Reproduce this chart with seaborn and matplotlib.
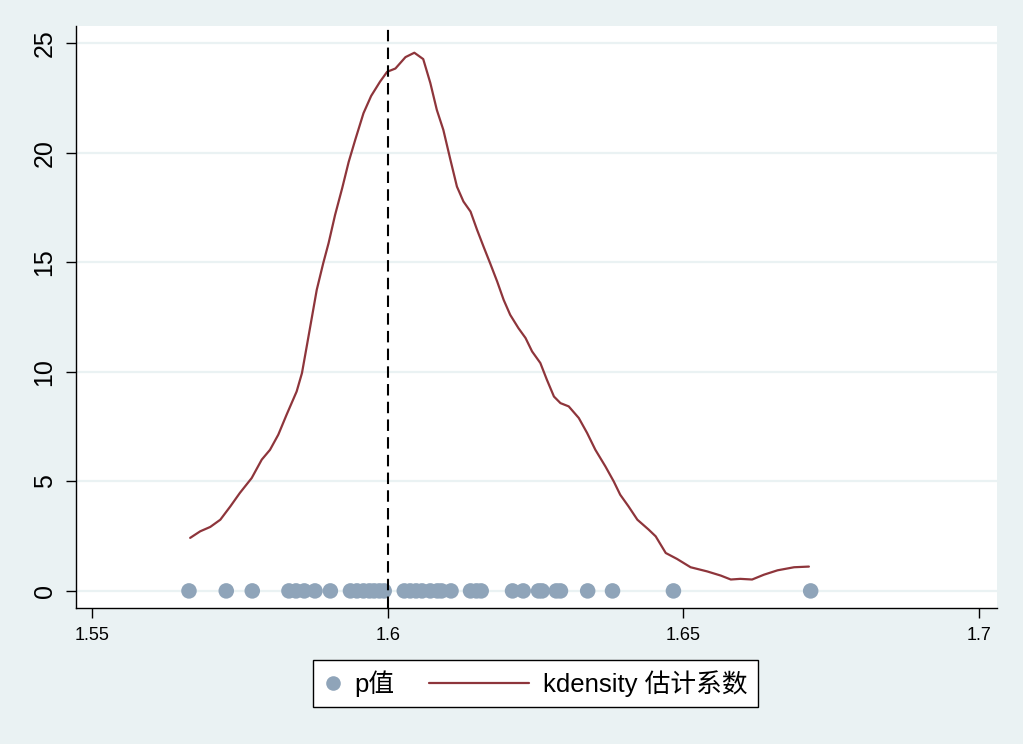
import numpy as np
import pandas as pd
import matplotlib
matplotlib.use("Agg")
import matplotlib.pyplot as plt
import seaborn as sns
from matplotlib.lines import Line2D
from matplotlib.legend_handler import HandlerLine2D

# ------------------ DATA ------------------
# estimated coefficients, drawn as dots on the zero line
coef_values = [
    1.5664, 1.5727, 1.5771, 1.5833, 1.5845, 1.5859, 1.5877, 1.5903,
    1.5937, 1.5948, 1.5959, 1.5969, 1.5977, 1.5986, 1.5994,
    1.6028, 1.6038, 1.6048, 1.6058, 1.6072, 1.6084, 1.6091, 1.6107,
    1.6140, 1.6150, 1.6158, 1.6211, 1.6229, 1.6255, 1.6261, 1.6285,
    1.6292, 1.6338, 1.6380, 1.6483, 1.6715,
]

# kdensity curve (x grid and density)
kd_x = [
    1.5666, 1.5683, 1.5700, 1.5717, 1.5734, 1.5750, 1.5770, 1.5787,
    1.5801, 1.5815, 1.5829, 1.5846, 1.5855, 1.5863, 1.5872, 1.5880,
    1.5891, 1.5900, 1.5911, 1.5923, 1.5934, 1.5945, 1.5959, 1.5972,
    1.5987, 1.5999, 1.6013, 1.6030, 1.6045, 1.6060, 1.6072, 1.6083,
    1.6094, 1.6106, 1.6117, 1.6128, 1.6140, 1.6151, 1.6162, 1.6173,
    1.6185, 1.6196, 1.6207, 1.6221, 1.6233, 1.6244, 1.6258, 1.6269,
    1.6281, 1.6292, 1.6306, 1.6323, 1.6337, 1.6351, 1.6368, 1.6382,
    1.6393, 1.6407, 1.6422, 1.6441, 1.6453, 1.6470, 1.6489, 1.6512,
    1.6540, 1.6563, 1.6580, 1.6596, 1.6616, 1.6636, 1.6659, 1.6687,
    1.6712,
]
kd_density = [
    2.42, 2.72, 2.92, 3.25, 3.86, 4.47, 5.15, 5.99,
    6.44, 7.13, 8.04, 9.10, 9.94, 11.15, 12.52, 13.74,
    14.96, 15.87, 17.16, 18.38, 19.58, 20.58, 21.80, 22.59,
    23.24, 23.69, 23.84, 24.36, 24.56, 24.27, 23.18, 21.95,
    21.04, 19.67, 18.45, 17.77, 17.31, 16.48, 15.71, 14.96,
    14.12, 13.28, 12.60, 11.99, 11.54, 10.93, 10.40, 9.64,
    8.87, 8.57, 8.42, 7.89, 7.21, 6.44, 5.68, 5.00,
    4.39, 3.86, 3.25, 2.80, 2.49, 1.73, 1.46, 1.08,
    0.89, 0.70, 0.52, 0.55, 0.52, 0.74, 0.94, 1.08,
    1.11,
]

ref_value = 1.6
x_ticks = [1.55, 1.6, 1.65, 1.7]
x_tick_labels = ["1.55", "1.6", "1.65", "1.7"]
y_ticks = [0, 5, 10, 15, 20, 25]
legend_labels = ["p值", "kdensity 估计系数"]

# ------------------ STYLE ------------------
BG = "#EAF2F3"
GRID = "#EAF2F3"
DOT = "#8FA4B9"
LINE_C = "#8E353B"

sns.set_theme(style="white")
plt.rcParams["font.family"] = ["Liberation Sans", "Noto Sans CJK SC", "DejaVu Sans"]
plt.rcParams["text.color"] = "black"
plt.rcParams["xtick.color"] = "black"
plt.rcParams["ytick.color"] = "black"

dots_df = pd.DataFrame({"coef": coef_values, "zero": np.zeros(len(coef_values))})
kd_df = pd.DataFrame({"b": kd_x, "density": kd_density})


class LongLine(HandlerLine2D):
    # legend line that reaches back into the column gap, like Stata's key
    def get_xdata(self, legend, xdescent, ydescent, width, height, fontsize):
        x1 = -xdescent + width - 0.16 * fontsize
        x0 = x1 - 3.9 * fontsize
        return np.array([x0, x1]), np.array([(x0 + x1) / 2])


# ------------------ PLOT ------------------
fig = plt.figure(figsize=(10.23, 7.44), dpi=100, facecolor=BG)
ax = fig.add_axes([76 / 1023, 1 - 608 / 744, (997 - 76) / 1023, (608 - 26) / 744])
ax.set_facecolor("white")

sns.lineplot(data=kd_df, x="b", y="density", sort=False, color=LINE_C,
             linewidth=1.6, ax=ax, legend=False, zorder=3)
sns.scatterplot(data=dots_df, x="coef", y="zero", color=DOT, s=125,
                edgecolor="none", linewidth=0, ax=ax, legend=False, zorder=4)
ax.axvline(ref_value, color="black", linestyle=(0, (5.5, 3)), linewidth=1.5, zorder=5)

ax.set_xlim(1.5473, 1.7030)
ax.set_ylim(-0.78, 25.78)
ax.set_xticks(x_ticks)
ax.set_xticklabels(x_tick_labels, fontsize=13)
ax.set_yticks(y_ticks)
ax.set_yticklabels([str(v) for v in y_ticks], fontsize=18, rotation=90, va="center")
ax.set_xlabel("")
ax.set_ylabel("")

ax.yaxis.grid(True, color=GRID, linewidth=1.6)
ax.xaxis.grid(False)
ax.set_axisbelow(True)

for side in ["top", "right"]:
    ax.spines[side].set_visible(False)
for side in ["left", "bottom"]:
    ax.spines[side].set_color("black")
    ax.spines[side].set_linewidth(1.0)
ax.tick_params(axis="both", direction="out", length=7, width=1.0, color="black",
               labelcolor="black", pad=7, left=True, bottom=True)

dot_handle = Line2D([], [], marker="o", linestyle="", color=DOT, markersize=10.5,
                    markeredgewidth=0)
line_handle = Line2D([], [], color=LINE_C, linewidth=1.6)
leg = fig.legend([dot_handle, line_handle], legend_labels, loc="center",
                 bbox_to_anchor=(535.5 / 1023, 1 - 683.5 / 744), ncol=2,
                 handlelength=0.8, handletextpad=0.4, columnspacing=4.6,
                 borderpad=0.4, fontsize=18.5, frameon=True, fancybox=False,
                 framealpha=1, edgecolor="black",
                 handler_map={line_handle: LongLine()})
leg.get_frame().set_linewidth(1.0)
leg.get_frame().set_facecolor("white")
for txt in leg.get_texts():
    txt.set_color("black")

fig.savefig("out.png", dpi=100, facecolor=BG)
